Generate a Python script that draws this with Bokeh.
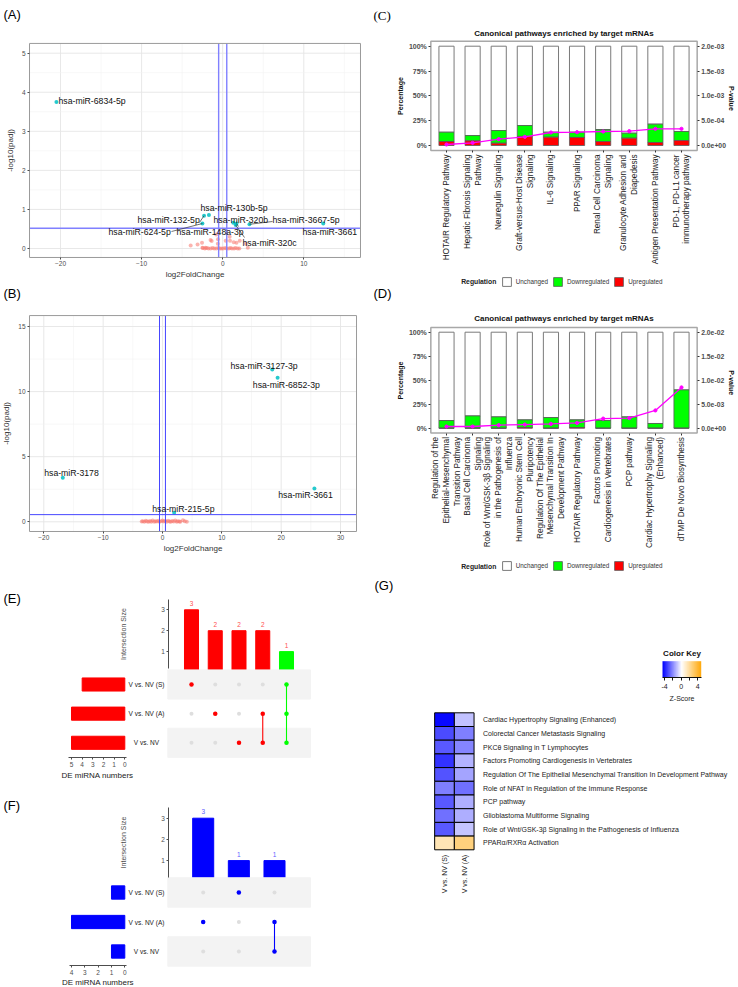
import math
import numpy as np
from bokeh.plotting import figure
from bokeh.models import (Range1d, LinearAxis, FixedTicker, Legend, LegendItem, ColumnDataSource,
                          LinearColorMapper, PrintfTickFormatter)
from bokeh.core.properties import value
from bokeh.embed import file_html
from bokeh.resources import INLINE

FONT = "Liberation Sans"

# ======================= DATA =======================
# (A) volcano plot
A_sig_names = ["hsa-miR-6834-5p", "hsa-miR-130b-5p", "hsa-miR-132-5p", "hsa-miR-320b", "hsa-miR-3667-5p",
               "hsa-miR-624-5p", "hsa-miR-148a-3p", "hsa-miR-3661", "hsa-miR-320c"]
A_sig_x = [-20.5, -1.7, -2.3, 1.3, 3.3, -2.5, 1.7, 12.4, 1.6]
A_sig_y = [3.75, 0.86, 0.84, 0.66, 0.62, 0.64, 0.64, 0.64, 0.60]
A_ns_x = [-3.95, -3.1, -2.55, -2.5, -2.1, -1.5, -1.36, -0.8, -0.58, -0.6, 0.37, 0.86, 0.9, 1.36, 1.7, 2.1,
          2.85, 3.1, -2.45, -2.2, -1.95, -1.75, -1.5, -1.25, -1.05, -0.8, -0.55, -0.35, -0.15, 0.05, 0.3,
          0.5, 0.75, 0.95, 1.15, 1.4, 1.6, 1.85, 2.05]
A_ns_y = [0.08, 0.1, 0.15, 0.02, 0.02, 0.22, 0.19, 0.36, 0.24, 0.12, 0.2, 0.3, 0.2, 0.16, 0.15, 0.2,
          0.12, 0.02, 0.01, 0.0, 0.01, 0.0, 0.0, 0.01, 0.0, 0.0, 0.01, 0.0, 0.0, 0.0, 0.01,
          0.0, 0.0, 0.01, 0.0, 0.0, 0.01, 0.0, 0.0]
A_xlim = (-23.82, 16.99)
A_ylim = (-0.23, 5.25)
A_x_ticks = [-20, -10, 0, 10]
A_x_minor = [-15, -5, 5, 15]
A_y_ticks = [0, 1, 2, 3, 4, 5]
A_y_minor = [0.5, 1.5, 2.5, 3.5, 4.5]
A_fc_cut = 0.5
A_p_cut = 0.52

# (B) volcano plot
B_sig_names = ["hsa-miR-3127-3p", "hsa-miR-6852-3p", "hsa-miR-3178", "hsa-miR-3661", "hsa-miR-215-5p"]
B_sig_x = [18.5, 19.4, -16.8, 25.6, 1.97]
B_sig_y = [11.7, 11.07, 3.38, 2.56, 0.69]
B_ns_x = [-3.5, -3.3, -3.05, -2.8, -2.6, -2.35, -2.1, -1.9, -1.65, -1.4, -1.2, -0.95, -0.7, -0.5, -0.25,
          0.0, 0.2, 0.45, 0.7, 0.95, 1.2, 1.4, 1.65, 1.9, 2.15, 2.4, 2.6, 2.85, 3.0, 3.45, 3.75, 4.1]
B_ns_y = [0.02, 0.05, 0.0, 0.08, 0.02, 0.0, 0.06, 0.01, 0.1, 0.0, 0.04, 0.02, 0.08, 0.0, 0.05,
          0.1, 0.02, 0.06, 0.0, 0.09, 0.03, 0.0, 0.07, 0.02, 0.1, 0.0, 0.05, 0.03, 0.0, 0.12, 0.05, 0.0]
B_xlim = (-22.41, 32.7)
B_ylim = (-0.745, 15.84)
B_x_ticks = [-20, -10, 0, 10, 20, 30]
B_x_minor = [-15, -5, 5, 15, 25]
B_y_ticks = [0, 5, 10, 15]
B_y_minor = [2.5, 7.5, 12.5]
B_fc_cut = 0.5
B_p_cut = 0.55

# (C) canonical pathways
C_paths = ["HOTAIR Regulatory Pathway", "Hepatic Fibrosis Signaling\nPathway", "Neuregulin Signaling",
           "Graft-versus-Host Disease\nSignaling", "IL-6 Signaling", "PPAR Signaling",
           "Renal Cell Carcinoma\nSignaling", "Granulocyte Adhesion and\nDiapedesis",
           "Antigen Presentation Pathway", "PD-1, PD-L1 cancer\nimmunotherapy pathway"]
C_up = [4.0, 4.7, 2.3, 9.1, 8.4, 8.1, 4.0, 7.4, 3.0, 5.0]
C_down = [9.4, 5.3, 12.8, 11.0, 5.0, 5.3, 12.1, 5.0, 18.5, 9.1]
C_pval = [2.0e-5, 5.4e-5, 1.28e-4, 1.74e-4, 2.62e-4, 2.68e-4, 2.82e-4, 2.89e-4, 3.36e-4, 3.36e-4]
C_p_ticks = [0.0, 5e-4, 1e-3, 1.5e-3, 2e-3]
C_p_labels = ["0.0e+00", "5.0e-04", "1.0e-03", "1.5e-03", "2.0e-03"]

# (D) canonical pathways
D_paths = ["Regulation of the\nEpithelial-Mesenchymal\nTransition Pathway", "Basal Cell Carcinoma\nSignaling",
           "Role of Wnt/GSK-3\u03b2 Signaling\nin the Pathogenesis of\nInfluenza",
           "Human Embryonic Stem Cell\nPluripotency",
           "Regulation Of The Epithelial\nMesenchymal Transition In\nDevelopment Pathway",
           "HOTAIR Regulatory Pathway", "Factors Promoting\nCardiogenesis in Vertebrates", "PCP pathway",
           "Cardiac Hypertrophy Signaling\n(Enhanced)", "dTMP De Novo Biosynthesis"]
D_up = [0.0, 0.0, 0.0, 0.6, 0.0, 0.6, 0.0, 0.0, 0.0, 0.0]
D_down = [8.0, 12.8, 11.8, 8.1, 11.1, 8.1, 8.0, 11.8, 4.9, 39.9]
D_pval = [3.5e-4, 3.5e-4, 6.3e-4, 7.6e-4, 9.0e-4, 1.1e-3, 2.0e-3, 2.1e-3, 3.7e-3, 8.5e-3]
D_p_ticks = [0.0, 5e-3, 1e-2, 1.5e-2, 2e-2]
D_p_labels = ["0.0e+00", "5.0e-03", "1.0e-02", "1.5e-02", "2.0e-02"]

PCT_ticks = [0, 25, 50, 75, 100]
REG_names = ["Unchanged", "Downregulated", "Upregulated"]

# (E) upset, up-regulated
E_sets = ["V vs. NV (S)", "V vs. NV (A)", "V vs. NV"]
E_set_size = [4, 5, 5]
E_inter_size = [3, 2, 2, 2, 1]
E_inter_members = [[0], [1], [2], [1, 2], [0, 1, 2]]
E_inter_color = ["#FF0000", "#FF0000", "#FF0000", "#FF0000", "#00FF00"]

# (F) upset, down-regulated
F_sets = ["V vs. NV (S)", "V vs. NV (A)", "V vs. NV"]
F_set_size = [1, 4, 1]
F_inter_size = [3, 1, 1]
F_inter_members = [[1], [0], [1, 2]]
F_inter_color = ["#0000FF", "#0000FF", "#0000FF"]

# (G) heatmap of z-scores
G_paths = ["Cardiac Hypertrophy Signaling (Enhanced)", "Colorectal Cancer Metastasis Signaling",
           "PKC\u03b8 Signaling in T Lymphocytes", "Factors Promoting Cardiogenesis in Vertebrates",
           "Regulation Of The Epithelial Mesenchymal Transition In Development Pathway",
           "Role of NFAT in Regulation of the Immune Response", "PCP pathway",
           "Glioblastoma Multiforme Signaling",
           "Role of Wnt/GSK-3\u03b2 Signaling in the Pathogenesis of Influenza",
           "PPAR\u03b1/RXR\u03b1 Activation"]
G_cols = ["V vs. NV (S)", "V vs. NV (A)"]
G_z_S = [-4.3, -3.15, -2.9, -3.6, -3.0, -2.25, -2.9, -2.5, -2.9, 1.4]
G_z_A = [-1.1, -2.25, -2.15, -1.35, -1.6, -2.5, -1.4, -1.4, -1.0, 2.45]
G_lo, G_hi = -4.48, 4.82
G_key_ticks = [-4, -2, 0, 2, 4]
G_key_labels = ["-4", "", "0", "", "4"]

# ======================= CANVAS & PANEL SCALES =======================
W, H = 738, 986
p = figure(width=W, height=H, x_range=Range1d(0, W), y_range=Range1d(0, H), min_border=0,
           x_axis_location=None, y_axis_location=None, output_backend="svg", toolbar_location=None)
p.outline_line_color = None
p.background_fill_color = "white"
p.border_fill_color = "white"
p.grid.visible = False

PAN, XR, YR = {}, {}, {}


def panel(name, pxa, xa, pxb, xb, pya, ya, pyb, yb):
    """linear mapping of a panel: page pixel (px, py from top) <-> data"""
    sx = (xb - xa) / (pxb - pxa)
    sy = (yb - ya) / (pyb - pya)
    PAN[name] = (pxa, xa, sx, pya, ya, sy)
    XR[name] = Range1d(xa - pxa * sx, xa + (W - pxa) * sx)
    YR[name] = Range1d(ya + (H - pya) * sy, ya - pya * sy)


def p2d(name, px, py):
    pxa, xa, sx, pya, ya, sy = PAN[name]
    return xa + (px - pxa) * sx, ya + (py - pya) * sy


def d2p(name, x, y):
    pxa, xa, sx, pya, ya, sy = PAN[name]
    return pxa + (x - xa) / sx, pya + (y - ya) / sy


panel("A", 60.0, -20, 303.3, 10, 248.0, 0, 52.7, 5)
panel("B", 43.3, -20, 340.0, 30, 521.3, 0, 326.0, 15)
panel("C", 446.0, 1, 681.0, 10, 145.0, 0, 45.7, 100)
panel("Cp", 446.0, 1, 681.0, 10, 145.0, 0, 45.7, 2e-3)
panel("D", 446.0, 1, 681.0, 10, 427.7, 0, 331.7, 100)
panel("Dp", 446.0, 1, 681.0, 10, 427.7, 0, 331.7, 2e-2)
panel("Et", 191.0, 1, 286.0, 5, 672.0, 0, 609.3, 3)
panel("Em", 191.0, 1, 286.0, 5, 742.3, 1, 684.0, 3)
panel("El", 124.3, 0, 71.0, 5, 742.3, 1, 684.0, 3)
panel("Ft", 202.7, 1, 274.0, 3, 881.3, 0, 817.7, 3)
panel("Fm", 202.7, 1, 274.0, 3, 951.0, 1, 892.0, 3)
panel("Fl", 124.3, 0, 71.0, 4, 951.0, 1, 892.0, 3)
panel("Gk", 664.0, -4, 697.3, 4, 676.7, 0, 660.7, 1)
panel("Gh", 444.0, 1, 463.7, 2, 842.45, 1, 719.15, 10)
p.extra_x_ranges = XR
p.extra_y_ranges = YR


def T(px, py, text, size, align="left", baseline="middle", color="#000000", angle=0.0, bold=False,
      font=FONT):
    p.text(x=[px], y=[H - py], text=[text], text_font=value(font), text_font_size=value(f"{size}px"),
           text_align=align, text_baseline=baseline, text_color=color, angle=angle,
           text_font_style="bold" if bold else "normal")


def sty(ax, size=7.0, color="#4d4d4d", tick_color="#4d4d4d", out=2, standoff=2, line_color=None,
        label=None, label_size=8.0, label_color="#333333", label_standoff=3, bold=False, label_bold=False):
    ax.major_label_text_font = FONT
    ax.major_label_text_font_size = f"{size}px"
    ax.major_label_text_color = color
    ax.major_label_text_font_style = "bold" if bold else "normal"
    ax.major_tick_line_color = tick_color
    ax.major_tick_out = out
    ax.major_tick_in = 0
    ax.minor_tick_line_color = None
    ax.major_label_standoff = standoff
    ax.axis_line_color = line_color
    if label is not None:
        ax.axis_label = label
    ax.axis_label_text_font = FONT
    ax.axis_label_text_font_size = f"{label_size}px"
    ax.axis_label_text_color = label_color
    ax.axis_label_text_font_style = "bold" if label_bold else "normal"
    ax.axis_label_standoff = label_standoff


def axis(side, rng, loc_px, ticks, bounds, **style):
    if side in ("left", "right"):
        ax = LinearAxis(y_range_name=rng, fixed_location=loc_px, bounds=bounds, ticker=FixedTicker(ticks=ticks))
    else:
        ax = LinearAxis(x_range_name=rng, fixed_location=H - loc_px, bounds=bounds,
                        ticker=FixedTicker(ticks=ticks))
    sty(ax, **style)
    p.add_layout(ax, side)
    return ax


# ======================= VOLCANO PANELS =======================
def volcano(nm, xlim, ylim, xt, xm, yt, ym, fc, pc, ns_x, ns_y, sig_x, sig_y, line_col, line_w):
    kw = dict(x_range_name=nm, y_range_name=nm)
    p.quad(left=[xlim[0]], right=[xlim[1]], bottom=[ylim[0]], top=[ylim[1]], fill_color="white",
           line_color=None, **kw)
    for tk, col, wd in [(xm, "#f2f2f2", 0.6), (xt, "#e5e5e5", 0.9)]:
        p.segment(x0=tk, y0=[ylim[0]] * len(tk), x1=tk, y1=[ylim[1]] * len(tk), line_color=col,
                  line_width=wd, **kw)
    for tk, col, wd in [(ym, "#f2f2f2", 0.6), (yt, "#e5e5e5", 0.9)]:
        p.segment(x0=[xlim[0]] * len(tk), y0=tk, x1=[xlim[1]] * len(tk), y1=tk, line_color=col,
                  line_width=wd, **kw)
    p.scatter(ns_x, ns_y, size=4, color="#F8766D", alpha=0.55, line_color=None, **kw)
    p.scatter(sig_x, sig_y, size=4, color="#00BFC4", alpha=0.85, line_color=None, **kw)
    p.segment(x0=[-fc, fc], y0=[ylim[0]] * 2, x1=[-fc, fc], y1=[ylim[1]] * 2, line_color=line_col,
              line_width=line_w, **kw)
    p.segment(x0=[xlim[0]], y0=[pc], x1=[xlim[1]], y1=[pc], line_color=line_col, line_width=line_w, **kw)
    p.quad(left=[xlim[0]], right=[xlim[1]], bottom=[ylim[0]], top=[ylim[1]], fill_color=None,
           line_color="#9a9a9a", line_width=1, **kw)
    left_px = d2p(nm, xlim[0], 0)[0]
    bottom_py = d2p(nm, 0, ylim[0])[1]
    axis("left", nm, left_px, yt, ylim, size=6.5, label="-log10(padj)", label_size=8, label_standoff=4)
    axis("below", nm, bottom_py, xt, xlim, size=6.5, label="log2FoldChange", label_size=8, label_standoff=0)


volcano("A", A_xlim, A_ylim, A_x_ticks, A_x_minor, A_y_ticks, A_y_minor, A_fc_cut, A_p_cut, A_ns_x, A_ns_y,
        A_sig_x, A_sig_y, "#8080ff", 1.4)
# ggrepel-style connectors (label end in page px -> point index) and label anchors
A_seg = [((171, 231), 5), ((238, 226), 6), ((244, 237), 8), ((272, 221), 4), ((199, 222), 2)]
for (sx_, sy_), k in A_seg:
    x0, y0 = p2d("A", sx_, sy_)
    p.segment(x0=[x0], y0=[y0], x1=[A_sig_x[k]], y1=[A_sig_y[k]], line_color="#333333", line_width=0.7,
              x_range_name="A", y_range_name="A")
A_lab_px = [(58, 100.7), (200, 207), (137, 219), (213, 219), (272, 219), (108, 231), (176, 231),
            (302, 231), (242, 242)]
p.text(x=[a for a, b in A_lab_px], y=[H - b for a, b in A_lab_px], text=A_sig_names, text_font=value(FONT),
       text_font_size=value("8.7px"), text_baseline="middle", text_align="left", text_color="#111111")
T(3, 14, "(A)", 13)

volcano("B", B_xlim, B_ylim, B_x_ticks, B_x_minor, B_y_ticks, B_y_minor, B_fc_cut, B_p_cut, B_ns_x, B_ns_y,
        B_sig_x, B_sig_y, "#4646ff", 1.0)
B_lab_px = [(230, 365), (252.3, 384), (43.7, 472.7), (277.7, 494.7), (151.7, 508.3)]
p.text(x=[a for a, b in B_lab_px], y=[H - b for a, b in B_lab_px], text=B_sig_names, text_font=value(FONT),
       text_font_size=value("8.7px"), text_baseline="middle", text_align="left", text_color="#111111")
T(3, 293, "(B)", 13)


# ======================= UPSET PANELS =======================
def upset(pre, sets, set_size, isize, members, icol, set_col, count_col, bar_w, ax_px, t_bounds,
          l_bounds, l_axis_py, l_ticks, band_px, letter, letter_py, title_standoff):
    t, m, l = pre + "t", pre + "m", pre + "l"
    xs = list(range(1, len(isize) + 1))
    ys = [3, 2, 1]
    p.vbar(x=xs, top=isize, bottom=0, width=bar_w, color=icol, x_range_name=t, y_range_name=t)
    p.text(x=xs, y=[s + 0.3 for s in isize], text=[str(s) for s in isize], text_align="center",
           text_baseline="middle", text_font=value(FONT), text_font_size=value("6.5px"),
           text_color=count_col, x_range_name=t, y_range_name=t)
    bl = p2d(m, band_px[0], 0)[0]
    br = p2d(m, band_px[1], 0)[0]
    p.hbar(y=[3, 1], left=bl, right=br, height=1.0, color="#f3f3f3", x_range_name=m, y_range_name=m)
    gx = [x for x in xs for _ in ys]
    gy = [y for _ in xs for y in ys]
    p.scatter(gx, gy, size=4, color="#dedede", line_color=None, x_range_name=m, y_range_name=m)
    for x, mem, c in zip(xs, members, icol):
        yy = [ys[k] for k in mem]
        if len(yy) > 1:
            p.segment(x0=[x], y0=[min(yy)], x1=[x], y1=[max(yy)], line_color=c, line_width=1.1,
                      x_range_name=m, y_range_name=m)
        p.scatter([x] * len(yy), yy, size=4.5, color=c, line_color=None, x_range_name=m, y_range_name=m)
    p.hbar(y=ys, left=0, right=set_size, height=0.45, color=set_col, x_range_name=l, y_range_name=m)
    p.text(x=[146] * 3, y=ys, text=sets, text_align="center", text_baseline="middle",
           text_font=value(FONT), text_font_size=value("6.5px"), text_color="#222222", y_range_name=m)
    axis("left", t, ax_px, [1, 2, 3], t_bounds, size=6.5, line_color="#4d4d4d", label="Intersection Size",
         label_size=7, label_color="#4d4d4d", label_standoff=31)
    axis("below", l, l_axis_py, l_ticks, l_bounds, size=6.5, line_color="#4d4d4d", label="DE miRNA numbers",
         label_size=8, label_color="#222222", label_standoff=title_standoff)
    T(3, letter_py, letter, 13)


upset("E", E_sets, E_set_size, E_inter_size, E_inter_members, E_inter_color, "#FF0000", "#ff5050", 0.59,
      168.3, (0.2, 3.48), (-0.16, 5.28), 757.0, [0, 1, 2, 3, 4, 5], (167.3, 310.0), "(E)", 598, 1)
upset("F", F_sets, F_set_size, F_inter_size, F_inter_members, F_inter_color, "#0000FF", "#6060ff", 0.59,
      168.3, (0.2, 3.51), (-0.13, 4.15), 965.0, [0, 1, 2, 3, 4], (167.3, 310.0), "(F)", 805, 0)


# ======================= PATHWAY PANELS =======================
def pathway(nm, paths, up, down, pval, pticks, plabels, pbounds, letter, letter_py, letter_font, title_py,
            legend_py):
    pn = nm + "p"
    kw = dict(x_range_name=nm, y_range_name=nm)
    xs = list(range(1, len(paths) + 1))
    tot = [u + d for u, d in zip(up, down)]
    r_white = p.vbar(x=xs, bottom=tot, top=100, width=0.58, fill_color="white", line_color="#7a7a7a",
                     line_width=1, **kw)
    r_green = p.vbar(x=xs, bottom=up, top=tot, width=0.58, fill_color="#00FF00", line_color="#5a5a5a",
                     line_width=0.8, **kw)
    r_red = p.vbar(x=xs, bottom=0, top=up, width=0.58, fill_color="#FF0000", line_color="#5a5a5a",
                   line_width=0.8, **kw)
    p.line(xs, pval, line_color="#FF00FF", line_width=1.3, x_range_name=nm, y_range_name=pn)
    p.scatter(xs, pval, size=3.2, color="#FF00FF", x_range_name=nm, y_range_name=pn)
    p.quad(left=[0.4], right=[10.6], bottom=[-5], top=[105], fill_color=None, line_color="#a8a8a8",
           line_width=1.5, **kw)
    left_px = d2p(nm, 0.4, 0)[0]
    right_px = d2p(nm, 10.6, 0)[0]
    bottom_py = d2p(nm, 1, -5)[1]
    la = axis("left", nm, left_px, PCT_ticks, (-5, 105), size=7, color="#4d4d4d", tick_color="#333333",
              bold=True, label="Percentage", label_size=7, label_color="#111111", label_bold=True,
              label_standoff=2)
    la.formatter = PrintfTickFormatter(format="%d%%")
    ra = axis("right", pn, right_px, pticks, pbounds, size=6.8, color="#4d4d4d", tick_color="#333333",
              bold=True)
    ra.major_label_overrides = {t: s for t, s in zip(pticks, plabels)}
    xa = axis("below", nm, bottom_py, xs, (0.4, 10.6), size=8.2, color="#222222", tick_color="#333333")
    xa.major_label_overrides = {x: s for x, s in zip(xs, paths)}
    xa.major_label_orientation = math.pi / 2

    leg = Legend(items=[LegendItem(label=REG_names[0], renderers=[r_white]),
                        LegendItem(label=REG_names[1], renderers=[r_green]),
                        LegendItem(label=REG_names[2], renderers=[r_red])],
                 orientation="horizontal", location=(500.7, H - (legend_py + 5.5)),
                 padding=0, margin=0, spacing=4, label_standoff=4, glyph_width=11, glyph_height=11,
                 label_height=11, label_width=10, label_text_font=FONT, label_text_font_size="6.3px",
                 label_text_color="#333333", border_line_color=None, background_fill_alpha=0)
    p.add_layout(leg)
    T(460.7, legend_py, "Regulation", 6.8, bold=True, color="#222222")
    T(563.5, title_py, "Canonical pathways enriched by target mRNAs", 8, align="center", bold=True,
      color="#111111")
    top_py = d2p(nm, 1, 100)[1]
    T(731, (top_py + bottom_py) / 2, "P-value", 7, align="center", angle=-math.pi / 2, bold=True,
      color="#111111")
    T(373, letter_py, letter, 13, font=letter_font)


pathway("C", C_paths, C_up, C_down, C_pval, C_p_ticks, C_p_labels, (-1e-4, 2.1e-3), "(C)", 15,
        "Liberation Serif", 33, 281)
pathway("D", D_paths, D_up, D_down, D_pval, D_p_ticks, D_p_labels, (-1e-3, 2.1e-2), "(D)", 293.3, FONT,
        317.7, 565.7)


# ======================= HEATMAP (G) =======================
def zcolor(z):
    if z < 0:
        f = min(z / G_lo, 1.0)
        c = int(round(255 * (1 - f)))
        return "#%02x%02xff" % (c, c)
    f = min(z / G_hi, 1.0)
    return "#ff%02x%02x" % (int(round(255 - 90 * f)), int(round(255 - 255 * f)))


G_palette = [zcolor(G_lo + (G_hi - G_lo) * i / 255) for i in range(256)]
G_mapper = LinearColorMapper(palette=G_palette, low=G_lo, high=G_hi)

p.image(image=[np.linspace(G_lo, G_hi, 256).reshape(1, 256)], x=G_lo, y=0, dw=G_hi - G_lo, dh=1,
        color_mapper=G_mapper, x_range_name="Gk", y_range_name="Gk")
ka = axis("below", "Gk", 676.7, G_key_ticks, (G_lo, G_hi), size=7, color="#222222", tick_color="#111111",
          out=3, standoff=4, line_color="#111111", label="Z-Score", label_size=7, label_color="#222222",
          label_standoff=2)
ka.major_label_overrides = {t: s for t, s in zip(G_key_ticks, G_key_labels)}
T(681.5, 653, "Color Key", 8, align="center", bold=True, color="#111111")
T(374, 585, "(G)", 13)

n = len(G_paths)
hx, hy, hz = [], [], []
for j, zs in enumerate([G_z_S, G_z_A]):
    for i, z in enumerate(zs):
        hx.append(j + 1)
        hy.append(n - i)
        hz.append(z)
p.rect(x="x", y="y", width=1, height=1, source=ColumnDataSource(dict(x=hx, y=hy, z=hz)),
       fill_color={"field": "z", "transform": G_mapper}, line_color="#000000", line_width=1,
       x_range_name="Gh", y_range_name="Gh")
hr_px = d2p("Gh", 2.5, 1)[0]
hb_py = d2p("Gh", 1, 0.5)[1]
hya = axis("right", "Gh", hr_px, list(range(1, n + 1)), (0.5, n + 0.5), size=7, color="#222222",
           tick_color=None, out=0, standoff=9)
hya.major_label_overrides = {n - i: s for i, s in enumerate(G_paths)}
hxa = axis("below", "Gh", hb_py, [1, 2], (0.5, 2.5), size=7, color="#222222", tick_color=None, out=0,
           standoff=5)
hxa.major_label_overrides = {1: G_cols[0], 2: G_cols[1]}
hxa.major_label_orientation = math.pi / 2

open("out.html", "w").write(file_html(p, INLINE))
